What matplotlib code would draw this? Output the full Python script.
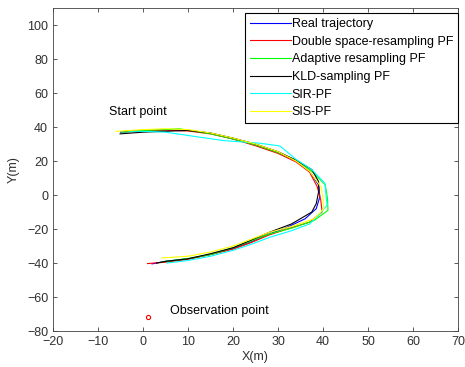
import matplotlib
matplotlib.use('Agg')
import matplotlib.pyplot as plt

plt.rcParams['font.family'] = ['Liberation Sans', 'DejaVu Sans']
plt.rcParams['font.size'] = 9

# trajectories (x, y in metres)
real_x = [-5, 0, 5, 10, 15, 20, 25, 30, 34, 37, 39, 39.3, 38.5, 36, 32, 28, 24, 20, 15, 10, 5, 2]
real_y = [37, 37.8, 38.3, 38, 36.3, 33, 29.5, 25, 20, 14, 6, -1, -8, -14, -19, -23, -27.5, -31.5, -35, -37.5, -39, -40.5]

dsr_x = [-4, 0, 5, 10, 15, 20, 25, 30, 34, 37, 38.7, 39.5, 39.8, 37, 32, 28, 24, 20, 15, 10, 5, 1]
dsr_y = [37.5, 37.9, 38.2, 37.7, 36, 33, 29, 24.5, 19.5, 13.5, 5, -3, -10, -16, -20, -23.5, -28, -31.8, -35, -37.8, -39.5, -40.3]

ada_x = [-4.7, 0, 5, 8, 15, 20, 25, 30, 34, 37.5, 40.5, 41, 41.1, 38, 33, 28, 24, 20, 15, 10, 4.2]
ada_y = [37, 38, 38.5, 39, 36, 33, 29.5, 25, 20.5, 14, 6, -2, -9, -15, -19.5, -23, -27, -31, -35, -37.3, -39.3]

kld_x = [-5.1, 0, 6.7, 10, 15, 20, 25, 30, 34, 37.5, 39, 39.1, 38.5, 37.5, 33, 28, 24, 20, 15, 10, 5, 3]
kld_y = [36, 37, 37.7, 38, 36.5, 33.5, 30, 25.5, 20.5, 15, 8, 3, -5, -10, -17, -22, -26.5, -31, -34.5, -37.5, -39, -40]

sir_x = [-3, 0, 5, 12.7, 18, 25.6, 30.4, 34, 37.5, 40.4, 40.9, 39, 37, 33, 28, 24, 20, 15, 10, 5.3]
sir_y = [37.5, 37.5, 37, 34, 32, 30.6, 28.9, 21, 15, 7, -6, -12, -17, -21, -25, -29, -32.5, -36, -38.5, -40]

sis_x = [-6, 0, 5, 10, 15, 20, 25, 30, 34, 37, 39.5, 40, 40.2, 38, 33, 28, 24, 20, 15, 10, 4.2]
sis_y = [37.5, 38.5, 39, 38.5, 36.5, 33.5, 30, 25.5, 20, 14, 5, -2, -8, -14, -18.5, -22, -26, -30, -33.5, -36, -37]

obs_x, obs_y = [1], [-72]

fig = plt.figure(figsize=(4.65, 3.67), dpi=100)
ax = fig.add_axes([0.114, 0.098, 0.871, 0.880])

lw = 0.8
ax.plot(real_x, real_y, color='#0000ff', lw=lw, label='Real trajectory')
ax.plot(dsr_x, dsr_y, color='#ff0000', lw=lw, label='Double space-resampling PF')
ax.plot(ada_x, ada_y, color='#00ff00', lw=lw, label='Adaptive resampling PF')
ax.plot(kld_x, kld_y, color='#000000', lw=lw, label='KLD-sampling PF')
ax.plot(sir_x, sir_y, color='#00ffff', lw=lw, label='SIR-PF')
ax.plot(sis_x, sis_y, color='#ffff00', lw=lw, label='SIS-PF')
ax.plot(obs_x, obs_y, 'o', color='red', mfc='none', ms=3, mew=0.8)

ax.text(-7.6, 49, 'Start point', va='center', ha='left')
ax.text(6, -68.2, 'Observation point', va='center', ha='left')

ax.set_xlim(-20, 70)
ax.set_ylim(-80, 110)
ax.set_xticks(range(-20, 71, 10))
ax.set_yticks(range(-80, 101, 20))
ax.tick_params(direction='in', top=True, right=True, length=3, width=0.6,
               labelcolor='#303030', color='#404040')
for s in ax.spines.values():
    s.set_linewidth(0.6)
    s.set_color('#404040')
ax.set_xlabel('X(m)', labelpad=2, color='#303030')
ax.set_ylabel('Y(m)', labelpad=5, color='#303030')

leg = ax.legend(loc='upper right', bbox_to_anchor=(1.0, 0.984), borderaxespad=0,
                fancybox=False, edgecolor='black', handlelength=3.3,
                labelspacing=0.45, handletextpad=0.05, borderpad=0.4, framealpha=1)
leg.get_frame().set_linewidth(0.8)

fig.savefig('out.png', dpi=100)
